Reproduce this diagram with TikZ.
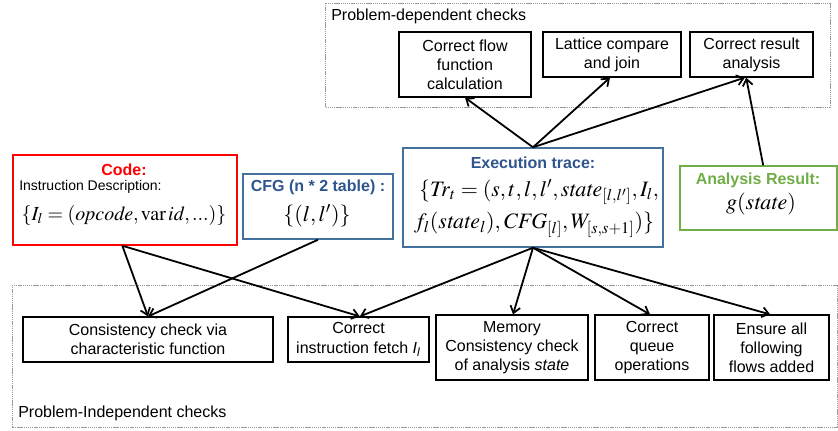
\documentclass[tikz,border=0pt]{standalone}
\usepackage{mathptmx}
\usepackage{fontspec}
\setmainfont{Liberation Sans}
\usetikzlibrary{arrows.meta}
\definecolor{codered}{RGB}{255,0,0}
\definecolor{boxblue}{RGB}{65,113,156}
\definecolor{titleblue}{RGB}{47,85,140}
\definecolor{resgreen}{RGB}{112,173,71}
\tikzset{
  box/.style={draw=black, line width=0.9pt, inner sep=0pt, align=center,
    font=\fontsize{12}{14.4}\selectfont},
  region/.style={draw=gray!80, line width=0.5pt, dash pattern=on 1pt off 0.6pt},
  conn/.style={line width=1.35pt, -{Straight Barb[length=5pt,width=7.5pt,line width=1.3pt]}},
  ttl/.style={inner sep=0pt, font=\fontsize{12}{14}\selectfont\bfseries},
  frm/.style={inner sep=0pt, font=\fontsize{16.5}{19}\selectfont},
  lbl/.style={inner sep=0pt, anchor=west, font=\fontsize{12}{14}\selectfont},
}
\begin{document}
\begin{tikzpicture}[x=0.75pt, y=-0.75pt]
\useasboundingbox (0,0) rectangle (838,430);
% regions
\draw[region] (325,3) rectangle (830,107);
\draw[region] (12,285) rectangle (837,427);
\node[lbl] (deplbl) at (331,16) {Problem-dependent checks};
\node[lbl] (indeplbl) at (18,413) {Problem-Independent checks};
% top boxes
\node[box, minimum width=99pt, minimum height=48.75pt] (flow) at (465,64.5) {Correct flow\\function\\calculation};
\node[box, minimum width=103.5pt, minimum height=33.75pt] (lattice) at (612,54.5) {Lattice compare\\and join};
\node[box, minimum width=92.25pt, minimum height=33.75pt] (result) at (751.5,54.5) {Correct result\\analysis};
% middle boxes
\node[draw=codered, line width=1.1pt, minimum width=168pt, minimum height=67.5pt, inner sep=0pt] (code) at (125,200) {};
\node[ttl, text=codered] (codet) at (124,170) {Code:};
\node[inner sep=0pt, anchor=west, font=\fontsize{10.5}{12}\selectfont] (coded) at (19,187) {Instruction Description:};
\node[frm, font=\fontsize{15}{18}\selectfont] (codef) at (124,215) {$\{I_l=(\mathit{opcode},\mathrm{var}\,\mathit{id},...)\}$};

\node[draw=boxblue, line width=1.1pt, minimum width=112.5pt, minimum height=48.75pt, inner sep=0pt] (cfg) at (318,206.5) {};
\node[ttl, text=titleblue] (cfgt) at (318,187) {CFG (n * 2 table) :};
\node[frm, font=\fontsize{16.5}{19}\selectfont] (cfgf) at (317,216) {$\{(l,l')\}$};

\node[draw=boxblue, line width=1.1pt, minimum width=195pt, minimum height=74.25pt, inner sep=0pt] (trace) at (533,197.5) {};
\node[ttl, text=titleblue] (tracet) at (533,163) {Execution trace:};
\node[frm] (tracef1) at (539,192) {$\{\mathit{Tr}_t=(s,t,l,l',\mathit{state}_{[l,l']},I_l,$};
\node[frm] (tracef2) at (534,225) {$f_l(\mathit{state}_l),\mathit{CFG}_{[l]},W_{[s,s+1]})\}$};

\node[draw=resgreen, line width=1.1pt, minimum width=117.75pt, minimum height=48pt, inner sep=0pt] (ares) at (758.5,198) {};
\node[ttl, text=resgreen] (arest) at (758,180) {Analysis Result:};
\node[frm] (aresf) at (761,204) {$g(\mathit{state})$};
% bottom boxes
\node[box, minimum width=187.5pt, minimum height=33.75pt] (consist) at (148,339.5) {Consistency check via\\characteristic function};
\node[box, minimum width=105.75pt, minimum height=33.75pt] (fetch) at (358.5,339.5) {Correct\\instruction fetch \textit{I}\textsubscript{\textit{l}}};
\node[box, minimum width=114pt, minimum height=48.75pt] (memory) at (512,347.5) {Memory\\Consistency check\\of analysis \textit{state}};
\node[box, minimum width=85.5pt, minimum height=48.75pt] (queue) at (652,347.5) {Correct\\queue\\operations};
\node[box, minimum width=86.25pt, minimum height=48.75pt] (ensure) at (771.5,347.5) {Ensure all\\following\\flows added};
% connectors
\draw[conn] (trace.north) -- (flow.south);
\draw[conn] (trace.north) -- ([xshift=-1.5pt]lattice.south);
\draw[conn] (trace.north) -- ([xshift=-5pt]result.south);
\draw[conn] ([xshift=3.5pt]ares.north) -- ([xshift=-4pt]result.south);
\draw[conn] ([xshift=-2pt]code.south) -- (consist.north);
\draw[conn] ([xshift=-2pt]code.south) -- ([xshift=1pt]fetch.north);
\draw[conn] (cfg.south) -- (consist.north);
\draw[conn] (trace.south) -- ([xshift=1pt]fetch.north);
\draw[conn] (trace.south) -- ([xshift=0.75pt]memory.north);
\draw[conn] (trace.south) -- ([xshift=-1.5pt]queue.north);
\draw[conn] (trace.south) -- ([xshift=-1pt]ensure.north);
\end{tikzpicture}
\end{document}
